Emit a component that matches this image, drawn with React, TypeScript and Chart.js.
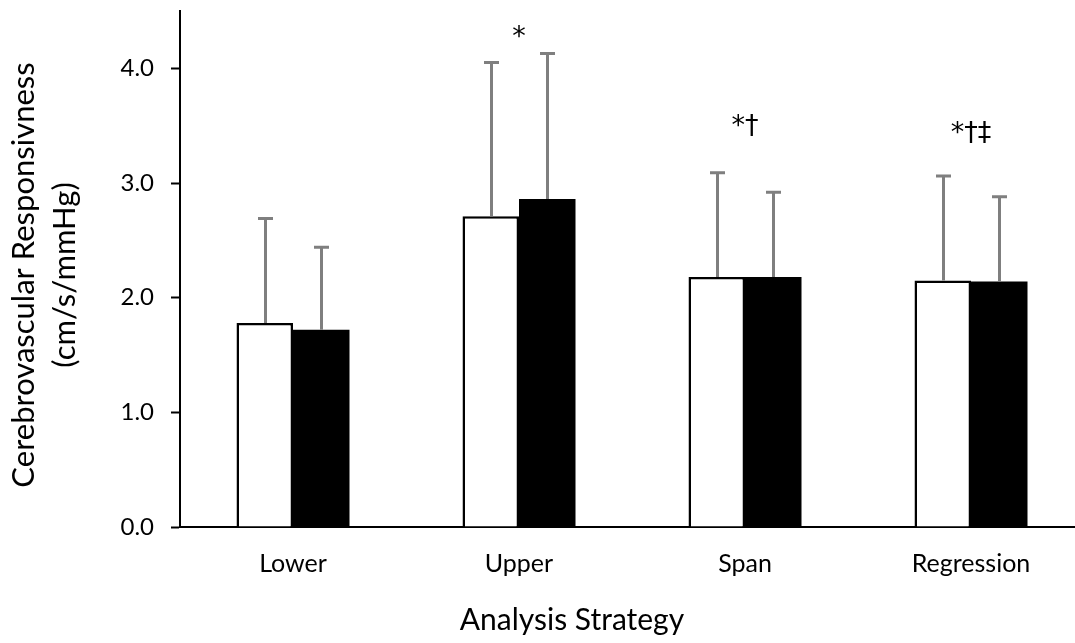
import React, { useEffect, useRef } from "react";
import { Chart, registerables } from "chart.js";

Chart.register(...registerables);

// ---- data ----
const categories = ["Lower", "Upper", "Span", "Regression"];
const whiteValues = [1.78, 2.71, 2.18, 2.15];
const blackValues = [1.72, 2.86, 2.18, 2.14];
const whiteErrors = [0.91, 1.34, 0.91, 0.91];
const blackErrors = [0.72, 1.27, 0.74, 0.74];
const yTickValues = [0, 1, 2, 3, 4];
const markLabels = ["", "*", "*\u2020", "*\u2020\u2021"];
const markValues = [0, 4.2, 3.43, 3.37];
const yTitleLines = ["Cerebrovascular Responsivness", "(cm/s/mmHg)"];
const xTitleText = "Analysis Strategy";

const FONT = "Lato";

const errorBarPlugin = {
  id: "errorBars",
  afterDatasetsDraw(chart: any) {
    const ctx = chart.ctx;
    const yScale = chart.scales.y;
    const errs = [whiteErrors, blackErrors];
    ctx.save();
    ctx.strokeStyle = "#7f7f7f";
    ctx.lineWidth = 3;
    chart.data.datasets.forEach((ds: any, i: number) => {
      const meta = chart.getDatasetMeta(i);
      meta.data.forEach((bar: any, j: number) => {
        const v = ds.data[j] as number;
        const top = yScale.getPixelForValue(v + errs[i][j]);
        const x = Math.round(bar.x) + 0.5;
        ctx.beginPath();
        ctx.moveTo(x, bar.y);
        ctx.lineTo(x, top);
        ctx.moveTo(x - 7.5, top);
        ctx.lineTo(x + 7.5, top);
        ctx.stroke();
      });
    });
    ctx.restore();
  },
};

const textPlugin = {
  id: "texts",
  afterDraw(chart: any) {
    const ctx = chart.ctx;
    const xScale = chart.scales.x;
    const yScale = chart.scales.y;
    ctx.save();
    ctx.fillStyle = "#000";
    // significance marks
    ctx.font = `27px "DejaVu Sans"`;
    ctx.textAlign = "center";
    ctx.textBaseline = "alphabetic";
    markLabels.forEach((t, i) => {
      if (!t) return;
      ctx.fillText(t, xScale.getPixelForValue(i), yScale.getPixelForValue(markValues[i]));
    });
    // x title
    ctx.font = `30px ${FONT}`;
    ctx.textBaseline = "middle";
    ctx.fillText(xTitleText, 572, 620);
    // y title
    ctx.font = `31px ${FONT}`;
    ctx.translate(0, 275);
    ctx.rotate(-Math.PI / 2);
    ctx.fillText(yTitleLines[0], 0, 24);
    ctx.fillText(yTitleLines[1], 0, 65);
    ctx.restore();
  },
};

export default function App() {
  const canvasRef = useRef<HTMLCanvasElement | null>(null);

  useEffect(() => {
    if (!canvasRef.current) return;
    const chart = new Chart(canvasRef.current, {
      type: "bar",
      data: {
        labels: categories,
        datasets: [
          {
            data: whiteValues,
            backgroundColor: "#ffffff",
            borderColor: "#000000",
            borderWidth: 2.5,
            borderSkipped: "start",
            categoryPercentage: 0.5,
            barPercentage: 1.0,
          },
          {
            data: blackValues,
            backgroundColor: "#000000",
            borderColor: "#000000",
            borderWidth: 0,
            categoryPercentage: 0.5,
            barPercentage: 1.0,
          },
        ],
      },
      options: {
        animation: false,
        responsive: false,
        devicePixelRatio: 1,
        layout: { padding: { left: 0, right: 16, top: 11, bottom: 0 } },
        plugins: { legend: { display: false }, tooltip: { enabled: false } },
        scales: {
          x: {
            grid: { drawOnChartArea: false, drawTicks: false, tickLength: 0 },
            border: { color: "#000", width: 2 },
            ticks: { color: "#000", font: { family: FONT, size: 25 }, padding: 22 },
            afterFit: (s: any) => {
              s.height = 116;
              s.paddingLeft = 0;
              s.paddingRight = 0;
            },
          },
          y: {
            min: 0,
            max: 4.5,
            afterBuildTicks: (s: any) => {
              s.ticks = yTickValues.map((v) => ({ value: v }));
            },
            grid: { drawOnChartArea: false, tickLength: 9, tickWidth: 2, tickColor: "#000" },
            border: { color: "#000", width: 2 },
            ticks: {
              color: "#000",
              font: { family: FONT, size: 24 },
              padding: 17,
              callback: (v: any) => Number(v).toFixed(1),
            },
            afterFit: (s: any) => {
              s.width = 180;
              s.paddingTop = 0;
              s.paddingBottom = 0;
            },
          },
        },
      },
      plugins: [errorBarPlugin, textPlugin],
    });
    return () => chart.destroy();
  }, []);

  return (
    <div
      style={{
        position: "absolute",
        left: 0,
        top: 0,
        width: 1075,
        height: 643,
        overflow: "hidden",
        background: "#fff",
      }}
    >
      <canvas ref={canvasRef} width={1100} height={643} style={{ display: "block" }} />
    </div>
  );
}
